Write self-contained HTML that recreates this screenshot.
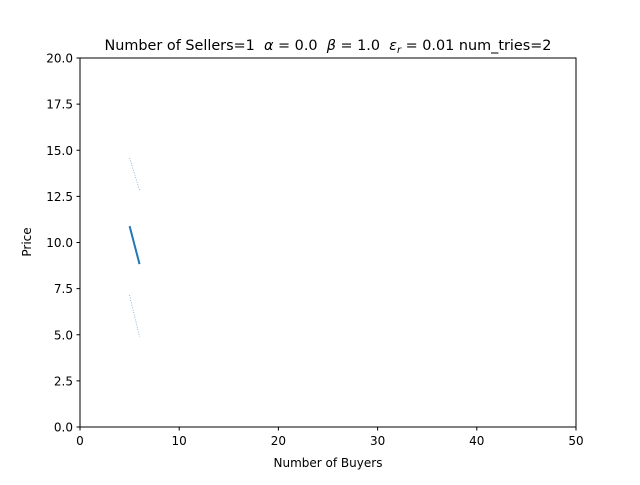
<!DOCTYPE html>
<html><head><meta charset="utf-8"><style>
body{margin:0;background:#fff;font-family:"Liberation Sans","DejaVu Sans",sans-serif}
</style></head><body>
<svg id="chart" width="640" height="480" xmlns="http://www.w3.org/2000/svg" font-family="'DejaVu Sans','Liberation Sans',sans-serif">
<rect width="640" height="480" fill="#fff"/>
<text x="328" y="50" text-anchor="middle" font-size="14.4" style="white-space:pre" xml:space="preserve">Number of Sellers=1  <tspan font-style="italic">α</tspan> = 0.0  <tspan font-style="italic">β</tspan> = 1.0  <tspan font-style="italic">ε</tspan><tspan font-size="10" font-style="italic" dy="3">r</tspan><tspan dy="-3"> = 0.01 num_tries=2</tspan></text>
<g id="ticks"></g>
<g id="marks"></g>
<rect x="80" y="58" width="496" height="369" fill="none" stroke="#000" stroke-width="1"/>
<text x="328" y="467" text-anchor="middle" font-size="12">Number of Buyers</text>
<text x="31" y="242" text-anchor="middle" font-size="12" transform="rotate(-90 31 242)">Price</text>
</svg>
<script>
const xTicks=[0,10,20,30,40,50];
const yTicks=[0,2.5,5,7.5,10,12.5,15,17.5,20];
const buyers=[5,6];
const meanPrice=[10.89,8.83];
const upperPrice=[14.58,12.85];
const lowerPrice=[7.15,4.88];
const NS="http://www.w3.org/2000/svg";
const X=v=>80+v/50*496, Y=v=>427-v/20*369;
const tg=document.getElementById('ticks'), mg=document.getElementById('marks');
function el(t,a,p){const e=document.createElementNS(NS,t);for(const k in a)e.setAttribute(k,a[k]);p.appendChild(e);return e;}
xTicks.forEach(v=>{
 const l=el('line',{x1:X(v),x2:X(v),y1:427,y2:430.5,stroke:'#000'},tg);
 
 
 const t=el('text',{x:X(v),y:445,'text-anchor':'middle','font-size':12},tg);t.textContent=v;
 
 
});
yTicks.forEach(v=>{
 const l=el('line',{x1:76.5,x2:80,y1:Y(v),y2:Y(v),stroke:'#000'},tg);
 
 
 const t=el('text',{x:73,y:Y(v)+4.5,'text-anchor':'end','font-size':12},tg);t.textContent=v.toFixed(1);
 
 
});
function pts(arr){return buyers.map((b,i)=>X(b)+','+Y(arr[i])).join(' ');}
const m=el('polyline',{points:pts(meanPrice),fill:'none',stroke:'#1f77b4','stroke-width':2},mg);


const u=el('polyline',{points:pts(upperPrice),fill:'none',stroke:'#1f77b4','stroke-width':0.7,'stroke-dasharray':'1,1.5',opacity:0.7},mg);


const lo=el('polyline',{points:pts(lowerPrice),fill:'none',stroke:'#1f77b4','stroke-width':0.7,'stroke-dasharray':'1,1.5',opacity:0.7},mg);


</script>
</body></html>
